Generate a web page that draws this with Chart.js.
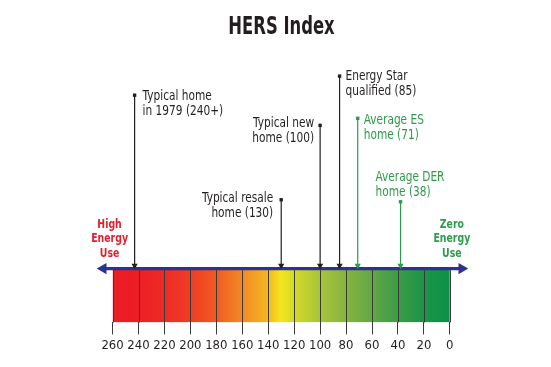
<!DOCTYPE html>
<html>
<head>
<meta charset="utf-8">
<script src="https://cdn.jsdelivr.net/npm/chart.js@4.4.1/dist/chart.umd.min.js"></script>
<style>
  html, body { margin: 0; padding: 0; background: #ffffff; }
  #wrap { width: 551px; height: 367px; }
</style>
</head>
<body>
<div id="wrap"><canvas id="c" width="551" height="367"></canvas></div>
<script>
// ---------------- DATA ----------------
const chartTitle = "HERS Index";
const tickValues = [260, 240, 220, 200, 180, 160, 140, 120, 100, 80, 60, 40, 20, 0];
const indexMax = 260;
const indexMin = 0;
const markerValues = [243, 130, 100, 85, 71, 38];
const markerLabels = [
  ["Typical home", "in 1979 (240+)"],
  ["Typical resale", "home (130)"],
  ["Typical new", "home (100)"],
  ["Energy Star", "qualified (85)"],
  ["Average ES", "home (71)"],
  ["Average DER", "home (38)"]
];
const leftEndLabel = ["High", "Energy", "Use"];
const rightEndLabel = ["Zero", "Energy", "Use"];
// gradient stops along the index scale (value -> colour)
const gradientValues = [260, 240, 220, 200, 180, 160, 140, 130, 120, 100, 80, 60, 40, 20, 0];
const gradientColors = ["#ec1c24", "#ec1f25", "#ee2b26", "#ef3d24", "#f05b22", "#f28a24", "#f3b822", "#f4e61c",
                        "#d3da29", "#a8c43a", "#86b43f", "#62a745", "#3c9c48", "#1b9447", "#0c9048"];

// ---------------- LAYOUT / STYLE ----------------
const FONT = "'Liberation Sans Narrow', 'DejaVu Sans Condensed', 'DejaVu Sans', sans-serif";
const BLACK = "#231f20";
const GREEN = "#2e9b4b";
const RED = "#e31e28";
const NAVY = "#2e3192";
const markerColors = [BLACK, BLACK, BLACK, BLACK, GREEN, GREEN];
// axis extent (slightly beyond the index range so the double arrow fits)
const AXIS_MAX = 272;
const AXIS_MIN = -14;
// leader top heights (y-scale units, 1 unit ~ 1px above bar bottom)
const leaderTops = [226, 122, 196, 245, 203, 120];
// label placement relative to the leader top: [align, dx, dy first line]
const labelPlacement = [
  ["left", 8, 1], ["right", -8, -1], ["right", -6, -2],
  ["left", 6, 0], ["left", 6, 2], ["left", -25, -24]
];
const BAR_TOP = 52;
const AXIS_LINE_Y = 53.5;
const LEADER_BOTTOM = 56.5;
const ARROW_CENTERS = [267.2, -9.2];
const LABEL_SQUEEZE = 0.84;

// ---------------- CHART ----------------
function barGradient(ctx) {
  const chart = ctx.chart;
  const xs = chart.scales.x;
  if (!xs || !chart.chartArea) return gradientColors[0];
  const x0 = xs.getPixelForValue(indexMax);
  const x1 = xs.getPixelForValue(indexMin);
  const g = chart.ctx.createLinearGradient(x0, 0, x1, 0);
  gradientValues.forEach((v, i) => {
    g.addColorStop((indexMax - v) / (indexMax - indexMin), gradientColors[i]);
  });
  return g;
}

const datasets = [];
markerValues.forEach((v, i) => {
  datasets.push({
    type: "line",
    data: [{ x: v, y: LEADER_BOTTOM }, { x: v, y: leaderTops[i] }],
    borderColor: markerColors[i],
    backgroundColor: markerColors[i],
    borderWidth: 1.2,
    pointStyle: ["triangle", "rect"],
    pointRadius: [3.6, 2.4],
    pointRotation: [180, 0],
    pointBorderWidth: 0,
    pointHoverRadius: 0,
    clip: false,
    fill: false
  });
});
datasets.push({
  type: "line",
  data: [{ x: ARROW_CENTERS[0], y: AXIS_LINE_Y }, { x: ARROW_CENTERS[1], y: AXIS_LINE_Y }],
  borderColor: NAVY,
  backgroundColor: NAVY,
  borderWidth: 3.2,
  pointStyle: "triangle",
  pointRadius: 6.5,
  pointRotation: [270, 90],
  pointBorderWidth: 0,
  clip: false,
  fill: false
});
datasets.push({
  type: "line",
  data: [{ x: indexMax, y: BAR_TOP }, { x: indexMin, y: BAR_TOP }],
  borderWidth: 0,
  borderColor: "rgba(0,0,0,0)",
  pointRadius: 0,
  fill: "origin",
  backgroundColor: barGradient,
  clip: false
});

function squeezedText(ctx, text, x, y, align, squeeze) {
  ctx.save();
  ctx.translate(x, y);
  ctx.scale(squeeze, 1);
  ctx.textAlign = align;
  ctx.fillText(text, 0, 0);
  ctx.restore();
}

const overlay = {
  id: "overlay",
  afterDatasetsDraw(chart) {
    const { ctx } = chart;
    const xs = chart.scales.x, ys = chart.scales.y;
    ctx.save();
    // dividers inside the bar
    ctx.strokeStyle = "#3a3a3a";
    ctx.lineWidth = 1;
    tickValues.forEach(v => {
      const px = Math.round(xs.getPixelForValue(v)) + 0.5;
      ctx.beginPath();
      ctx.moveTo(px, ys.getPixelForValue(BAR_TOP));
      ctx.lineTo(px, ys.getPixelForValue(0));
      ctx.stroke();
    });
    // marker labels
    ctx.font = "14px " + FONT;
    ctx.textBaseline = "middle";
    markerValues.forEach((v, i) => {
      const [align, dx, dy] = labelPlacement[i];
      const px = xs.getPixelForValue(v);
      const py = ys.getPixelForValue(leaderTops[i]);
      ctx.fillStyle = markerColors[i];
      markerLabels[i].forEach((line, k) => {
        squeezedText(ctx, line, px + dx, py + dy + k * 15, align, LABEL_SQUEEZE);
      });
    });
    // end labels
    ctx.font = "bold 13px " + FONT;
    const ay = ys.getPixelForValue(AXIS_LINE_Y);
    ctx.fillStyle = RED;
    leftEndLabel.forEach((line, k) => {
      squeezedText(ctx, line, xs.getPixelForValue(indexMax) - 3, ay - 44 + k * 14.5, "center", 0.8);
    });
    ctx.fillStyle = GREEN;
    rightEndLabel.forEach((line, k) => {
      squeezedText(ctx, line, xs.getPixelForValue(indexMin) + 2, ay - 44 + k * 14.5, "center", 0.8);
    });
    // title
    ctx.font = "bold 24px " + FONT;
    ctx.fillStyle = BLACK;
    squeezedText(ctx, chartTitle, chart.width / 2 + 6, 28, "center", 0.76);
    ctx.restore();
  }
};

new Chart(document.getElementById("c"), {
  type: "line",
  data: { datasets },
  plugins: [overlay],
  options: {
    responsive: false,
    animation: false,
    events: [],
    layout: { padding: { left: 97, right: 83, top: 60, bottom: 11 } },
    plugins: {
      legend: { display: false },
      tooltip: { enabled: false },
      title: { display: false }
    },
    scales: {
      x: {
        type: "linear",
        min: AXIS_MIN,
        max: AXIS_MAX,
        reverse: true,
        position: "bottom",
        afterBuildTicks(scale) { scale.ticks = tickValues.map(v => ({ value: v })); },
        ticks: { color: BLACK, font: { family: FONT, size: 13 }, padding: 3, autoSkip: false, maxRotation: 0 },
        grid: { drawOnChartArea: false, drawTicks: true, tickLength: 12, color: "#3a3a3a", lineWidth: 1 },
        border: { display: false }
      },
      y: {
        type: "linear",
        min: 0,
        max: 261,
        display: false
      }
    }
  }
});
</script>
</body>
</html>
